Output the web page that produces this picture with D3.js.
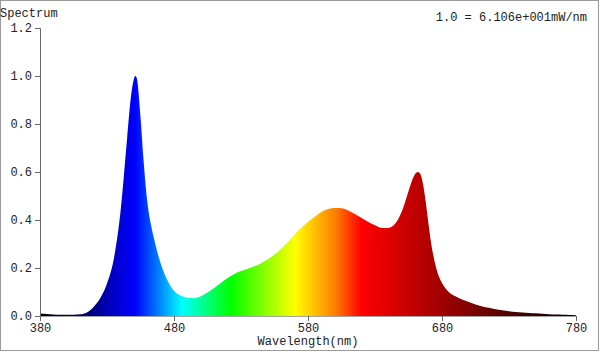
<!DOCTYPE html>
<html><head><meta charset="utf-8">
<script src="https://cdn.jsdelivr.net/npm/d3@7"></script>
<style>html,body{margin:0;padding:0;background:#fff}svg{display:block}</style>
</head><body>
<svg id="c" width="600" height="352"></svg>
<script>
const wavelengths = [380,385,390,395,400,405,410,415,420,425,430,435,440,445,448,450,451,452,455,457,460,463,465,470,475,480,485,490,495,500,505,510,515,520,525,530,535,540,545,550,555,560,565,570,575,580,585,590,595,600,605,610,615,620,625,630,635,640,645,650,655,658,660,662,664,666,668,670,672,675,678,681,685,690,695,700,705,710,715,720,725,730,735,740,745,750,755,760,765,770,775,780];
const spectrum = [0.010,0.008,0.006,0.005,0.005,0.005,0.007,0.015,0.038,0.075,0.135,0.235,0.430,0.740,0.920,0.985,1.000,0.995,0.830,0.670,0.480,0.375,0.325,0.220,0.150,0.105,0.085,0.076,0.074,0.082,0.098,0.117,0.138,0.158,0.175,0.187,0.197,0.207,0.220,0.236,0.256,0.280,0.308,0.340,0.368,0.392,0.414,0.433,0.446,0.450,0.449,0.440,0.425,0.408,0.392,0.378,0.367,0.367,0.384,0.435,0.520,0.570,0.592,0.600,0.590,0.545,0.470,0.380,0.300,0.215,0.160,0.128,0.100,0.082,0.069,0.058,0.048,0.040,0.034,0.028,0.024,0.020,0.017,0.015,0.013,0.011,0.009,0.007,0.006,0.005,0.004,0.003];
const xTicks = [380,480,580,680,780];
const yTicks = [0.0,0.2,0.4,0.6,0.8,1.0,1.2];
const colorStopNm = [380,420,435,451,486,522,570,600,620,680,730,780];
const colorStopHex = ["#000000","#000088","#0000c8","#0000ff","#00ffff","#00ff00","#ffff00","#ff8000","#ff0000","#a00000","#500000","#000000"];
const yTitle = "Spectrum";
const xTitle = "Wavelength(nm)";
const note = "1.0 = 6.106e+001mW/nm";

const svg = d3.select("#c");
const font = "'Liberation Mono','Courier New',monospace";
const x = d3.scaleLinear().domain([380,780]).range([40,576]);
const y = d3.scaleLinear().domain([0,1.2]).range([316,28]);

svg.append("rect").attr("x",0.5).attr("y",0.5).attr("width",598).attr("height",350)
  .attr("fill","#fff").attr("stroke","#9a9a9a").attr("stroke-width",1);

const grad = svg.append("defs").append("linearGradient").attr("id","spec")
  .attr("gradientUnits","userSpaceOnUse")
  .attr("x1",x(380)).attr("x2",x(780)).attr("y1",0).attr("y2",0);
colorStopNm.forEach((nm,i)=>{
  grad.append("stop").attr("offset",(nm-380)/400).attr("stop-color",colorStopHex[i]);
});

const pts = wavelengths.map((w,i)=>({w, v:spectrum[i]}));
const area = d3.area().x(d=>x(d.w)).y0(y(0)).y1(d=>y(d.v)).curve(d3.curveMonotoneX);
svg.append("path").datum(pts).attr("d",area).attr("fill","url(#spec)");

const xAxis = svg.append("g").attr("transform","translate(0,316)")
  .call(d3.axisBottom(x).tickValues(xTicks).tickFormat(d3.format("d")).tickSizeOuter(0).tickSize(5));
const yAxis = svg.append("g").attr("transform","translate(40,0)")
  .call(d3.axisLeft(y).tickValues(yTicks).tickFormat(d3.format(".1f")).tickSizeOuter(0).tickSize(5));
[xAxis,yAxis].forEach(g=>{
  g.select(".domain").attr("stroke","#666");
  g.selectAll(".tick line").attr("stroke","#666");
  g.selectAll(".tick text").attr("fill","#222").style("font-family",font).style("font-size","12px");
});
xAxis.select(".domain").attr("stroke-opacity",0.6);
xAxis.selectAll(".tick text").attr("dy","0.71em").attr("y",7);
yAxis.selectAll(".tick text").attr("x",-8);

svg.append("text").attr("x",0).attr("y",17).text(yTitle)
  .attr("fill","#222").style("font-family",font).style("font-size","12px");
svg.append("text").attr("x",308).attr("y",345).attr("text-anchor","middle").text(xTitle)
  .attr("fill","#222").style("font-family",font).style("font-size","12px");
svg.append("text").attr("x",587).attr("y",21).attr("text-anchor","end").text(note)
  .attr("fill","#222").style("font-family",font).style("font-size","12px");
</script>
</body></html>
